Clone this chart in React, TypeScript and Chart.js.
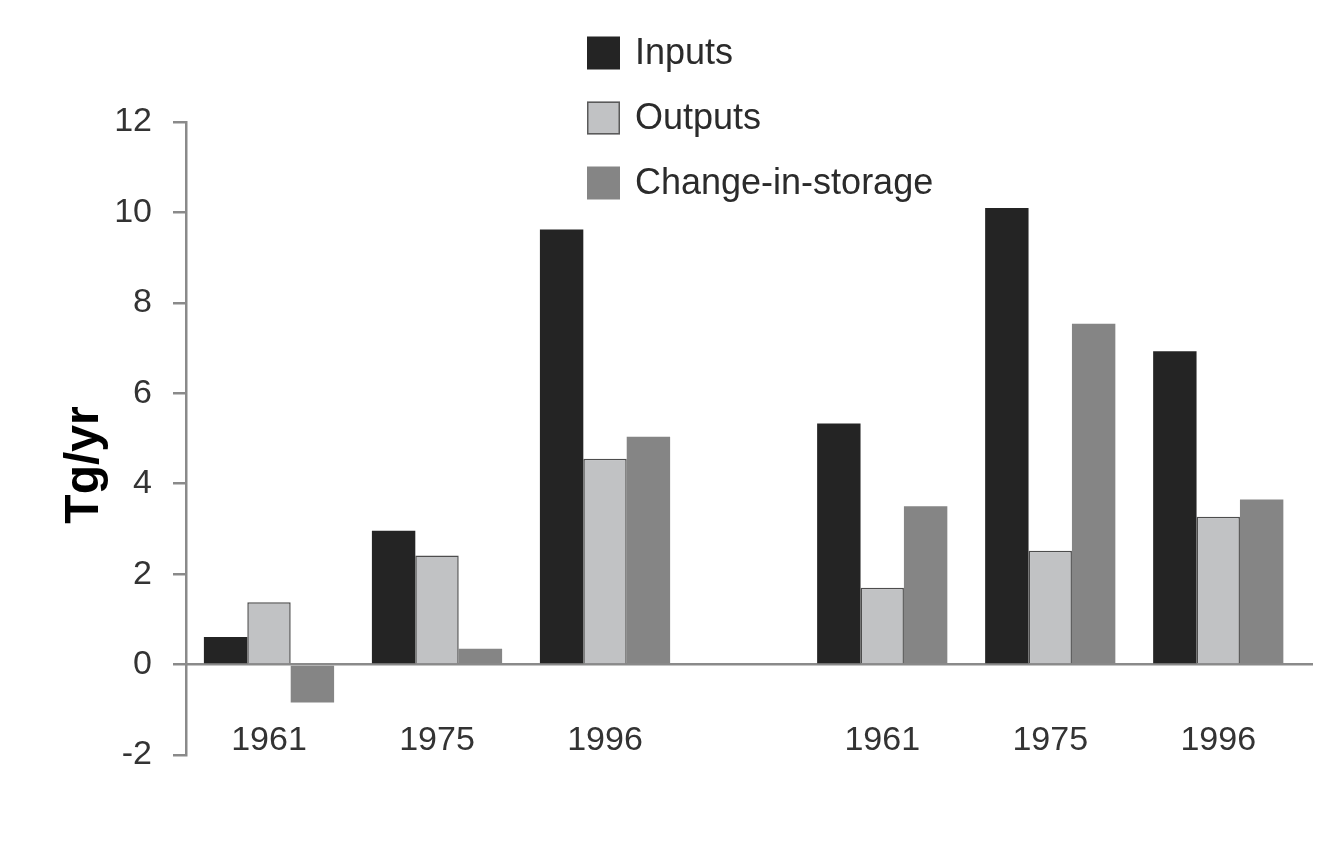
import { useEffect, useRef } from "react";
import { Chart, registerables } from "chart.js";

Chart.register(...registerables);

// ---- data ----
const groupLabels = ["1961", "1975", "1996", "1961", "1975", "1996"];
// category slot positions along the x axis (second set of years is set apart by a wider gap)
const slotPositions = [0, 1, 2, 3.65, 4.65, 5.65];
const seriesNames = ["Inputs", "Outputs", "Change-in-storage"];
const inputs = [0.61, 2.96, 9.62, 5.33, 10.1, 6.93];
const outputs = [1.38, 2.41, 4.55, 1.7, 2.52, 3.27];
const changeInStorage = [-0.84, 0.35, 5.04, 3.5, 7.54, 3.65];
const yTickValues = [-2, 0, 2, 4, 6, 8, 10, 12];
const yAxisTitle = "Tg/yr";

const seriesColors = ["#242424", "#c1c2c4", "#858585"];
const seriesBorders = ["#242424", "#4d4d4d", "#858585"];
const FONT = '"Liberation Sans", Arial, Helvetica, sans-serif';

const legendPlugin = {
  id: "stackedLegend",
  afterDraw(chart: any) {
    const ctx = chart.ctx;
    const left = 587;
    const firstRow = 53;
    const rowGap = 65;
    const box = 33;
    ctx.save();
    chart.data.datasets.forEach((ds: any, i: number) => {
      const cy = firstRow + i * rowGap;
      ctx.fillStyle = ds.backgroundColor;
      ctx.fillRect(left, cy - box / 2, box, box);
      if (i === 1) {
        ctx.strokeStyle = "#5a5a5a";
        ctx.lineWidth = 1.5;
        ctx.strokeRect(left + 0.75, cy - box / 2 + 0.75, box - 1.5, box - 1.5);
      }
      ctx.fillStyle = "#2b2b2b";
      ctx.font = `36px ${FONT}`;
      ctx.textAlign = "left";
      ctx.textBaseline = "middle";
      ctx.fillText(ds.label, left + 48, cy + 1);
    });
    ctx.restore();
  },
};

const yTitlePlugin = {
  id: "yTitle",
  afterDraw(chart: any) {
    const ctx = chart.ctx;
    ctx.save();
    ctx.translate(85, 465);
    ctx.rotate(-Math.PI / 2);
    ctx.fillStyle = "#000";
    ctx.font = `bold 48px ${FONT}`;
    ctx.textAlign = "center";
    ctx.textBaseline = "middle";
    ctx.fillText(yAxisTitle, 0, 0);
    ctx.restore();
  },
};

export default function App() {
  const ref = useRef<HTMLCanvasElement | null>(null);

  useEffect(() => {
    if (!ref.current) return;
    const seriesData = [inputs, outputs, changeInStorage];
    const chart = new Chart(ref.current, {
      type: "bar",
      data: {
        datasets: seriesNames.map((name, s) => ({
          label: name,
          data: slotPositions.map((x, i) => ({ x, y: seriesData[s][i] })),
          backgroundColor: seriesColors[s],
          borderColor: seriesBorders[s],
          borderWidth: s === 1 ? 1.5 : 0,
          categoryPercentage: 0.775,
          barPercentage: 1.0,
        })),
      },
      options: {
        responsive: false,
        animation: false,
        layout: { padding: { top: 122, bottom: 86, right: 29, left: 0 } },
        plugins: {
          legend: { display: false },
          title: { display: false },
          tooltip: { enabled: false },
        },
        scales: {
          x: {
            type: "linear",
            offset: false,
            position: { y: 0 } as any,
            min: -0.494,
            max: 6.208,
            afterBuildTicks: (scale: any) => {
              scale.ticks = slotPositions.map((v) => ({ value: v }));
            },
            ticks: {
              autoSkip: false,
              maxRotation: 0,
              padding: 56,
              color: "#333",
              font: { family: FONT, size: 34 },
              callback: (value: any) => {
                const idx = slotPositions.indexOf(Number(value));
                return idx >= 0 ? groupLabels[idx] : "";
              },
            },
            grid: { display: false, drawTicks: false },
            border: { display: true, color: "#8a8a8a", width: 2.5 },
          },
          y: {
            type: "linear",
            min: -2,
            max: 12,
            afterBuildTicks: (scale: any) => {
              scale.ticks = yTickValues.map((v) => ({ value: v }));
            },
            afterFit: (scale: any) => {
              scale.width = 186;
            },
            ticks: {
              padding: 21,
              color: "#333",
              font: { family: FONT, size: 34 },
            },
            grid: {
              drawOnChartArea: false,
              drawTicks: true,
              tickLength: 13,
              color: "#8a8a8a",
              lineWidth: 2.5,
            },
            border: { display: true, color: "#8a8a8a", width: 2.5 },
          },
        },
      },
      plugins: [legendPlugin, yTitlePlugin],
    } as any);
    return () => chart.destroy();
  }, []);

  return (
    <div style={{ position: "absolute", left: 0, top: 0, width: 1341, height: 841, background: "#fff" }}>
      <canvas ref={ref} width={1341} height={841} style={{ width: 1341, height: 841 }} />
    </div>
  );
}
